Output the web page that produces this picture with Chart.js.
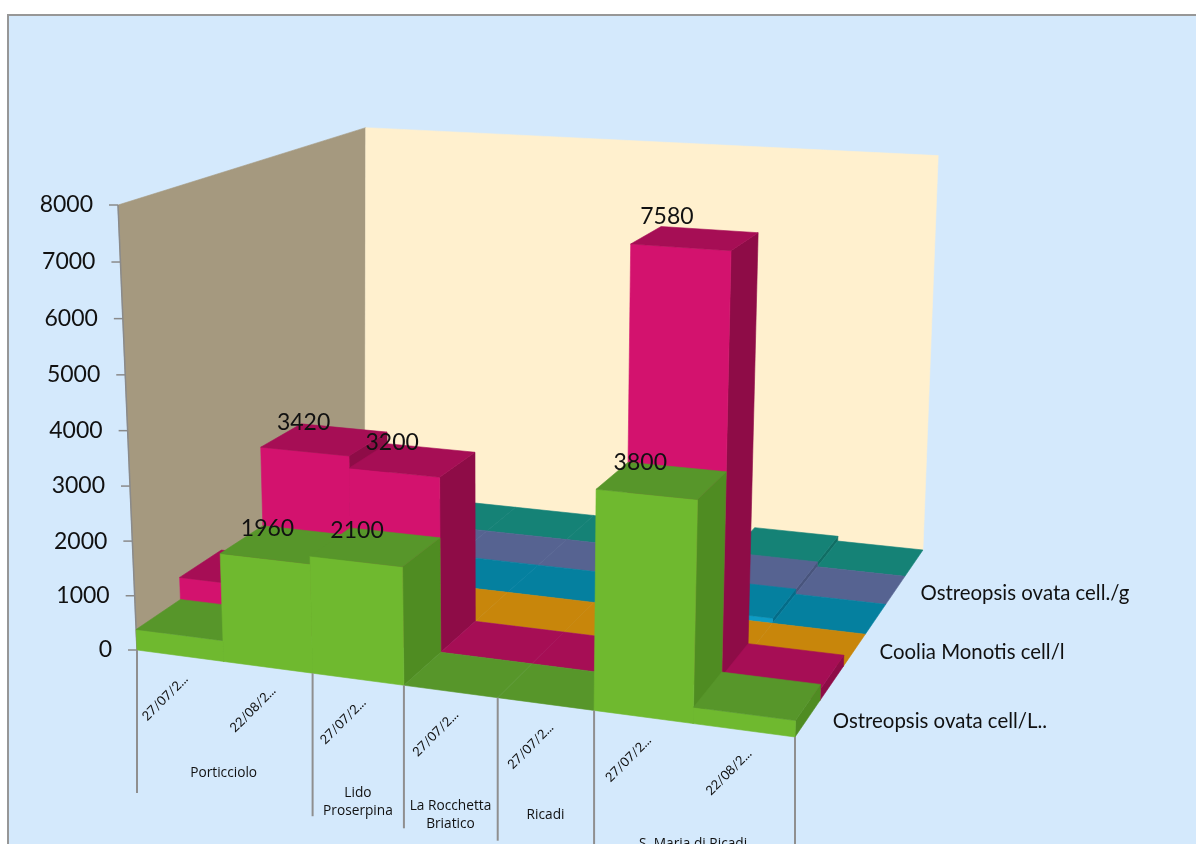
<!DOCTYPE html>
<html>
<head>
<meta charset="utf-8">
<title>Ostreopsis chart</title>
<script src="https://cdn.jsdelivr.net/npm/chart.js@4"></script>
<style>
  html, body { margin: 0; padding: 0; background: #fff; overflow: hidden; }
  canvas { display: block; }
</style>
</head>
<body>
<canvas id="chart" width="1196" height="844"></canvas>
<script>
// chart values
const dates = ['27/07/2...', '22/08/2...', '27/07/2...', '27/07/2...', '27/07/2...', '27/07/2...', '22/08/2...'];
const sites = ['Porticciolo', 'Lido\nProserpina', 'La Rocchetta\nBriatico', 'Ricadi', 'S. Maria di Ricadi'];
const siteSpans = [2, 1, 1, 1, 2];
const seriesNames = ['Ostreopsis ovata cell/L..', '', 'Coolia Monotis cell/l', '', 'Ostreopsis ovata cell./g', ''];

const greenValues = [380, 1960, 2100, 0, 0, 3800, 280];
const magentaValues = [800, 3420, 3200, 0, 0, 7580, 200];
const orangeValues = [0, 0, 0, 0, 0, 0, 0];
const blueValues = [0, 0, 0, 0, 0, 100, 0];
const slateValues = [0, 0, 0, 0, 0, 100, 0];
const tealValues = [0, 0, 0, 0, 0, 100, 0];
const seriesValues = [greenValues, magentaValues, orangeValues, blueValues, slateValues, tealValues];

// bar colours
const frontColors = ['#6fb92f', '#d3126e', '#dd9a10', '#0e9bc4', '#6a78a8', '#1f9a8c'];
const topColors = ['#57962a', '#a60e55', '#c8860b', '#05809f', '#566391', '#158276'];
const sideColors = ['#4f8c22', '#8e0c47', '#a87008', '#046c88', '#48547c', '#106e64'];

const LABEL_MIN = 1500; // Excel only shows the tall ones here
const siteOffsets = [112, 123, 124, 111, 121];

// perspective box: floor corners + top of the front left edge
const O = [137, 650], X = [795, 737], Y = [118, 205], Z = [365, 491.5];
const A = 0.91, B = 0.972, C = 1.2;

function project(u, v, w) {
  const d = 1 + u * (A - 1) + v * (B - 1) + w * (C - 1);
  const p = [0, 1].map(k =>
    (O[k] + u * (A * X[k] - O[k]) + v * (B * Y[k] - O[k]) + w * (C * Z[k] - O[k])) / d);
  // the reference box is not a clean camera, its verticals lean a bit more
  p[0] += v * (14.6 * u + 11 * w - 13.6 * u * w);
  p[1] += v * (2 * u + 9 * w - 3 * u * w);
  return p;
}

// linear scale that follows the perspective of the left wall
class PerspectiveScale extends Chart.LinearScale {
  static id = 'perspective';
  static defaults = Chart.LinearScale.defaults;
  getPixelForDecimal(d) {
    return super.getPixelForDecimal(B * d / (1 + d * (B - 1)));
  }
  _computeLabelItems(area) {
    const items = super._computeLabelItems(area);
    items.forEach((item, i) => {
      const d = (this.ticks[i].value - this.min) / (this.max - this.min);
      item.options.translation[0] = project(0, d, 0)[0] - 25;
    });
    return items;
  }
}
Chart.register(PerspectiveScale);

function poly(ctx, pts, color) {
  ctx.beginPath();
  pts.forEach((p, i) => i ? ctx.lineTo(p[0], p[1]) : ctx.moveTo(p[0], p[1]));
  ctx.closePath();
  ctx.fillStyle = color;
  ctx.strokeStyle = color;
  ctx.lineWidth = 0.6;
  ctx.fill();
  ctx.stroke();
}

const catEdge = (chart, i) => {
  const x = chart.scales.x;
  return (x.getPixelForValue(i) - x.left) / x.width - 0.5 / dates.length;
};
const valueDec = (chart, val) => {
  const y = chart.scales.y;
  return (val - y.min) / (y.max - y.min);
};

const box3d = {
  id: 'box3d',
  beforeDraw(chart) {
    const ctx = chart.ctx;
    ctx.save();
    ctx.fillStyle = '#d4e9fc';
    ctx.fillRect(8, 15, chart.width, chart.height);
    ctx.strokeStyle = '#979797';
    ctx.lineWidth = 2;
    ctx.beginPath();
    ctx.moveTo(8, chart.height);
    ctx.lineTo(8, 15);
    ctx.lineTo(chart.width, 15);
    ctx.stroke();
    ctx.restore();
  },
  beforeDatasetsDraw(chart) {
    const ctx = chart.ctx;
    // walls
    poly(ctx, [project(0, 0, 0), project(0, 1, 0), project(0, 1, 1), project(0, 0, 1)], '#a5997f');
    poly(ctx, [project(0, 0, 1), project(0, 1, 1), project(1, 1, 1), project(1, 0, 1)], '#fff0ce');
    // value axis line and tick marks
    ctx.strokeStyle = '#8a8a8a';
    ctx.lineWidth = 1.5;
    chart.scales.y.ticks.forEach(t => {
      const p = project(0, valueDec(chart, t.value), 0);
      ctx.beginPath();
      ctx.moveTo(p[0] - 9, p[1]);
      ctx.lineTo(p[0], p[1]);
      ctx.stroke();
    });
    const a = project(0, 0, 0), b = project(0, 1, 0);
    ctx.beginPath();
    ctx.moveTo(a[0], a[1]);
    ctx.lineTo(b[0], b[1]);
    ctx.stroke();
  },
  // one 3D box per bar; datasets come back to front, bars left to right
  beforeDatasetDraw(chart, args) {
    const ctx = chart.ctx;
    const s = args.index;
    const w0 = s / seriesValues.length, w1 = (s + 1) / seriesValues.length;
    chart.data.datasets[s].data.forEach((val, i) => {
      const u0 = catEdge(chart, i), u1 = catEdge(chart, i + 1);
      const h = valueDec(chart, val);
      if (h > 0) {
        poly(ctx, [project(u1, 0, w0), project(u1, h, w0), project(u1, h, w1), project(u1, 0, w1)], sideColors[s]);
        poly(ctx, [project(u0, 0, w0), project(u0, h, w0), project(u1, h, w0), project(u1, 0, w0)], frontColors[s]);
      }
      poly(ctx, [project(u0, h, w0), project(u0, h, w1), project(u1, h, w1), project(u1, h, w0)], topColors[s]);
    });
    return false;
  },
  afterDatasetsDraw(chart) {
    const ctx = chart.ctx;
    ctx.save();
    ctx.fillStyle = '#111';
    ctx.textAlign = 'center';
    ctx.textBaseline = 'middle';

    // value labels
    ctx.font = '23px Lato';
    chart.data.datasets.forEach((ds, s) => {
      const w = (s + 0.5) / seriesValues.length;
      ds.data.forEach((val, i) => {
        if (val < LABEL_MIN) return;
        const u = (catEdge(chart, i) + catEdge(chart, i + 1)) / 2;
        const h = valueDec(chart, val);
        const p = project(u, h, w);
        ctx.fillText(String(val), p[0] - 15 - 14 * h, p[1] - 14 - 8 * h);
      });
    });

    // dates, turned 45 degrees
    ctx.font = '13px Lato';
    dates.forEach((d, i) => {
      const p = project((catEdge(chart, i) + catEdge(chart, i + 1)) / 2, 0, 0);
      ctx.save();
      ctx.translate(p[0] - 15, p[1] + 42);
      ctx.rotate(-Math.PI / 4);
      ctx.fillText(d, 0, 0);
      ctx.restore();
    });

    // site groups with their separators
    ctx.strokeStyle = '#8f8f8f';
    ctx.lineWidth = 2;
    let at = 0;
    const sep = i => {
      const p = project(catEdge(chart, i), 0, 0);
      ctx.beginPath();
      ctx.moveTo(p[0], p[1]);
      ctx.lineTo(p[0], p[1] + 143);
      ctx.stroke();
    };
    sep(0);
    ctx.font = '13.7px "Open Sans"';
    sites.forEach((name, g) => {
      const next = at + siteSpans[g];
      sep(next);
      const p = project((catEdge(chart, at) + catEdge(chart, next)) / 2, 0, 0);
      const lines = name.split('\n');
      lines.forEach((line, l) => {
        ctx.fillText(line, p[0], p[1] + siteOffsets[g] + (l - (lines.length - 1) / 2) * 18);
      });
      at = next;
    });

    // depth axis names
    ctx.font = '20.4px Lato';
    ctx.textAlign = 'left';
    seriesNames.forEach((name, s) => {
      if (!name) return;
      const p = project(1, 0, (s + 0.5) / seriesNames.length);
      ctx.fillText(name, p[0] + 25, p[1] + 3);
    });
    ctx.restore();
  }
};

new Chart(document.getElementById('chart'), {
  type: 'bar',
  data: {
    labels: dates,
    datasets: seriesValues.map((vals, s) => ({
      label: seriesNames[s],
      data: vals,
      backgroundColor: frontColors[s],
    })),
  },
  options: {
    responsive: false,
    animation: false,
    layout: { autoPadding: false, padding: { left: 0, top: 205, right: 258, bottom: 194 } },
    plugins: { legend: { display: false }, tooltip: { enabled: false } },
    scales: {
      x: { display: false, offset: true },
      y: {
        type: 'perspective',
        min: 0,
        max: 8000,
        afterFit(scale) { scale.width = 118; },
        border: { display: false },
        grid: { display: false, drawTicks: false },
        ticks: { stepSize: 1000, autoSkip: false, color: '#111', font: { family: 'Lato', size: 23 }, callback: v => String(v) },
      },
    },
  },
  plugins: [box3d],
});
</script>
</body>
</html>
